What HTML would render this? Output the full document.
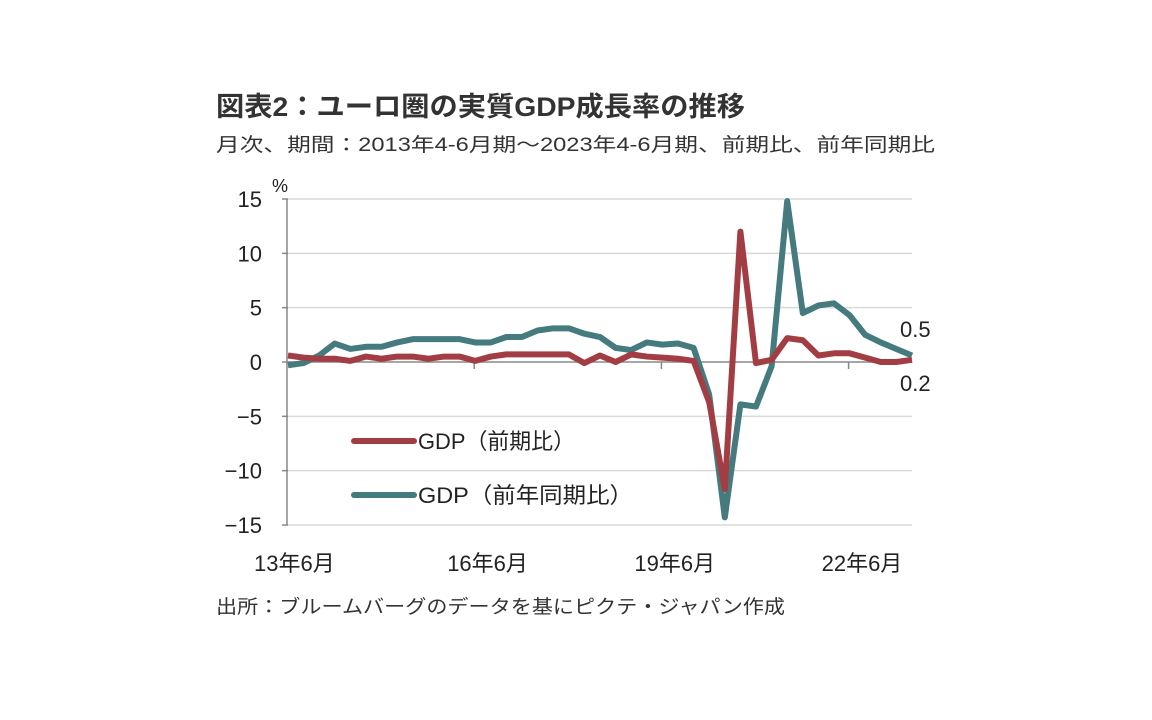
<!DOCTYPE html>
<html><head><meta charset="utf-8"><style>
body{margin:0;background:#fff;width:1152px;height:720px;overflow:hidden;font-family:"Liberation Sans","Noto Sans CJK JP",sans-serif;}
svg{position:absolute;left:0;top:0}
</style></head><body>
<svg width="1152" height="720">
<text x="216" y="116" font-size="27" font-weight="bold" fill="#333" textLength="529" lengthAdjust="spacingAndGlyphs">図表2：ユーロ圏の実質GDP成長率の推移</text>
<text x="216" y="151" font-size="19" fill="#333" textLength="719" lengthAdjust="spacingAndGlyphs">月次、期間：2013年4-6月期～2023年4-6月期、前期比、前年同期比</text>
<text x="272" y="192" font-size="18" fill="#222">%</text>
<g id="grid"></g>
<g id="yl"></g>
<g id="xl"></g>
<g id="ser"></g>
<text x="900" y="337" font-size="22" fill="#222">0.5</text>
<text x="900" y="391" font-size="22" fill="#222">0.2</text>
<g>
<line x1="354" y1="441" x2="414" y2="441" stroke="#a33d44" stroke-width="6" stroke-linecap="round"/>
<text x="418" y="449" font-size="22" fill="#222" textLength="157" lengthAdjust="spacingAndGlyphs">GDP（前期比）</text>
<line x1="354" y1="495" x2="414" y2="495" stroke="#457a7f" stroke-width="6" stroke-linecap="round"/>
<text x="418" y="503" font-size="22" fill="#222" textLength="215" lengthAdjust="spacingAndGlyphs">GDP（前年同期比）</text>
</g>
<text x="216" y="613" font-size="19" fill="#333" textLength="569" lengthAdjust="spacingAndGlyphs">出所：ブルームバーグのデータを基にピクテ・ジャパン作成</text>
</svg>
<script>
const yTicks=[15,10,5,0,-5,-10,-15];
const xTickLabels=["13年6月","16年6月","19年6月","22年6月"];
const xTickIdx=[0,12,24,36];
const qoq=[0.6,0.4,0.3,0.3,0.1,0.5,0.3,0.5,0.5,0.3,0.5,0.5,0.1,0.5,0.7,0.7,0.7,0.7,0.7,-0.1,0.6,0.0,0.7,0.5,0.4,0.3,0.1,-3.7,-11.7,12.0,-0.1,0.2,2.2,2.0,0.6,0.8,0.8,0.4,0.0,0.0,0.2];
const yoy=[-0.3,-0.1,0.6,1.7,1.2,1.4,1.4,1.8,2.1,2.1,2.1,2.1,1.8,1.8,2.3,2.3,2.9,3.1,3.1,2.6,2.3,1.3,1.1,1.8,1.6,1.7,1.3,-3.0,-14.3,-3.9,-4.1,-0.4,14.8,4.5,5.2,5.4,4.3,2.5,1.8,1.2,0.6];
const NS="http://www.w3.org/2000/svg";
const x0=288,x1=912,yTop=199,yBot=525;
const X=i=>x0+(x1-x0)*i/(qoq.length-1);
const Y=v=>yTop+(15-v)*(yBot-yTop)/30;
function mk(t,a,p){const e=document.createElementNS(NS,t);for(const k in a)e.setAttribute(k,a[k]);p.appendChild(e);return e;}
const g=document.getElementById('grid'),yl=document.getElementById('yl'),xl=document.getElementById('xl'),s=document.getElementById('ser');
yTicks.forEach(v=>{
 const l=mk('line',{x1:x0,x2:x1,y1:Y(v),y2:Y(v),stroke:v===0?'#888':'#d9d9d9','stroke-width':1.5},g);
 
 
 const tk=mk('line',{x1:x0-6,x2:x0,y1:Y(v),y2:Y(v),stroke:'#888','stroke-width':1.5},g);
 
 
 const t=mk('text',{x:262,y:Y(v)+8,'font-size':22,'text-anchor':'end',fill:'#222'},yl);
 t.textContent=v<0?'−'+(-v):String(v);
 
 
});
const ax=mk('line',{x1:x0-1,x2:x0-1,y1:yTop,y2:yBot,stroke:'#888','stroke-width':1.5},g);


xTickIdx.forEach((i,k)=>{
 if(i>0){const tk=mk('line',{x1:X(i)-1,x2:X(i)-1,y1:Y(0),y2:Y(0)+7,stroke:'#888','stroke-width':1.5},g);
 
 }
 const t=mk('text',{x:X(i)-28+(k===0?-6:0),y:571,'font-size':22,fill:'#222'},xl);
 t.textContent=xTickLabels[k];
 
 
});
function line(d,c,n){const p=mk('polyline',{points:d.map((v,i)=>X(i)+','+Y(v)).join(' '),fill:'none',stroke:c,'stroke-width':6,'stroke-linejoin':'round'},s);
 
 }
line(yoy,'#457a7f','line-yoy');
line(qoq,'#a33d44','line-qoq');
</script>
</body></html>
